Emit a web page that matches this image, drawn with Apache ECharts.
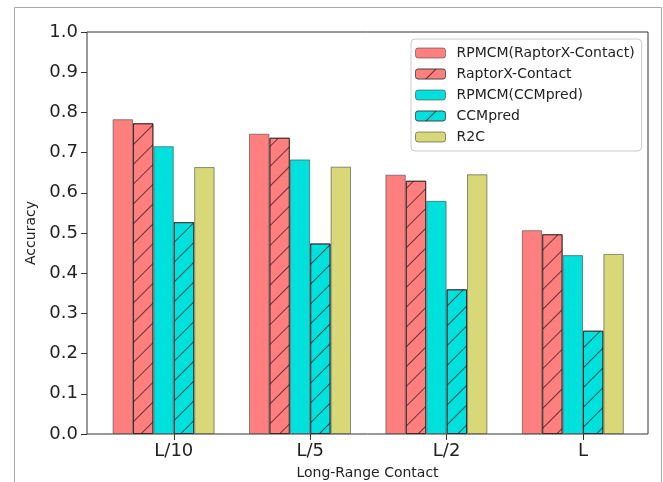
<!DOCTYPE html>
<html><head><meta charset="utf-8">
<script src="https://cdn.jsdelivr.net/npm/echarts@6/dist/echarts.min.js"></script>
<style>html,body{margin:0;padding:0;background:#fff;}#c{width:663px;height:482px;}</style>
</head><body><div id="c"></div>
<script>
const categories = ['L/10', 'L/5', 'L/2', 'L'];
const seriesNames = ['RPMCM(RaptorX-Contact)', 'RaptorX-Contact', 'RPMCM(CCMpred)', 'CCMpred', 'R2C'];
const rpmcmRaptor = [0.783, 0.747, 0.645, 0.507];
const raptor = [0.773, 0.737, 0.630, 0.497];
const rpmcmCCM = [0.716, 0.683, 0.580, 0.445];
const ccmpred = [0.527, 0.474, 0.360, 0.257];
const r2c = [0.664, 0.665, 0.646, 0.448];
const yTicks = [0, 1, 0.1];

const colors = ['#ff7f7f', '#ff7f7f', '#00e0dc', '#00e0dc', '#d8d878'];
const hatched = [false, true, false, true, false];
const values = [rpmcmRaptor, raptor, rpmcmCCM, ccmpred, r2c];

const font = 'DejaVu Sans';
const series = values.map((v, i) => ({
  name: seriesNames[i], type: 'bar', xAxisIndex: 1, yAxisIndex: 1,
  data: v, barWidth: 20.4, barGap: '0%',
  itemStyle: {
    color: colors[i],
    borderColor: hatched[i] ? 'rgba(50,30,30,0.7)' : 'rgba(70,70,70,0.6)',
    borderWidth: 1,
    decal: hatched[i] ? {
      symbol: 'rect', symbolSize: 1, dashArrayX: [1, 0], dashArrayY: [1, 13],
      rotation: -Math.PI / 4, color: 'rgba(0,0,0,0.6)'
    } : null
  },
  emphasis: { disabled: true }
}));
// invisible spacer series to offset the group relative to the tick
series.push({ name: '_spacer', type: 'bar', xAxisIndex: 1, yAxisIndex: 1,
  data: categories.map(() => 0), barWidth: 20.4, barGap: '0%',
  itemStyle: { color: 'rgba(0,0,0,0)' }, silent: true });

const chart = echarts.init(document.getElementById('c'), null, { renderer: 'canvas' });
chart.setOption({
  animation: false,
  backgroundColor: '#fff',
  textStyle: { fontFamily: font },
  graphic: [{ type: 'rect', shape: { x: 14.5, y: 7.5, width: 647, height: 480 },
    style: { fill: 'none', stroke: '#aaa', lineWidth: 1 }, silent: true }],
  grid: [
    { left: 87, top: 32, width: 561, height: 402, show: true, borderColor: '#333', borderWidth: 1,
      backgroundColor: 'rgba(0,0,0,0)', containLabel: false, outerBoundsMode: 'none' },
    { left: 105.6, top: 32, width: 545.6, height: 402, containLabel: false, outerBoundsMode: 'none' }
  ],
  legend: {
    data: seriesNames, orient: 'vertical', left: 411, top: 39,
    itemWidth: 30, itemHeight: 10, itemGap: 7,
    padding: [7, 7, 7, 4], borderColor: '#ccc', borderWidth: 1, borderRadius: 4,
    backgroundColor: '#fff',
    itemStyle: { borderColor: 'rgba(70,70,70,0.6)', borderWidth: 1 },
    textStyle: { fontFamily: font, fontSize: 14, lineHeight: 14, color: '#222', padding: [0, 0, 0, 6] },
    selectedMode: false
  },
  xAxis: [
    { gridIndex: 0, type: 'value', min: 0, max: 1, show: true,
      axisLine: { show: false }, axisTick: { show: false }, axisLabel: { show: false }, splitLine: { show: false },
      name: 'Long-Range Contact', nameLocation: 'middle', nameGap: 32,
      nameTextStyle: { fontFamily: font, fontSize: 14, color: '#222' } },
    { gridIndex: 1, type: 'category', data: categories, boundaryGap: true,
      axisLine: { show: false },
      axisTick: { show: true, alignWithLabel: true, length: 6, lineStyle: { color: '#333' } },
      axisLabel: { fontFamily: font, fontSize: 18, color: '#222', margin: 8 } }
  ],
  yAxis: [
    { gridIndex: 0, type: 'value', min: yTicks[0], max: yTicks[1], interval: yTicks[2],
      axisLine: { show: false },
      axisTick: { show: true, length: 6, inside: false, lineStyle: { color: '#333' } },
      axisLabel: { fontFamily: font, fontSize: 18, color: '#222', margin: 9, formatter: v => v.toFixed(1) },
      splitLine: { show: false },
      name: 'Accuracy', nameLocation: 'middle', nameGap: 45,
      nameTextStyle: { fontFamily: font, fontSize: 14, color: '#222' } },
    { gridIndex: 1, type: 'value', min: 0, max: 1, show: false }
  ],
  series: series
});
</script></body></html>
